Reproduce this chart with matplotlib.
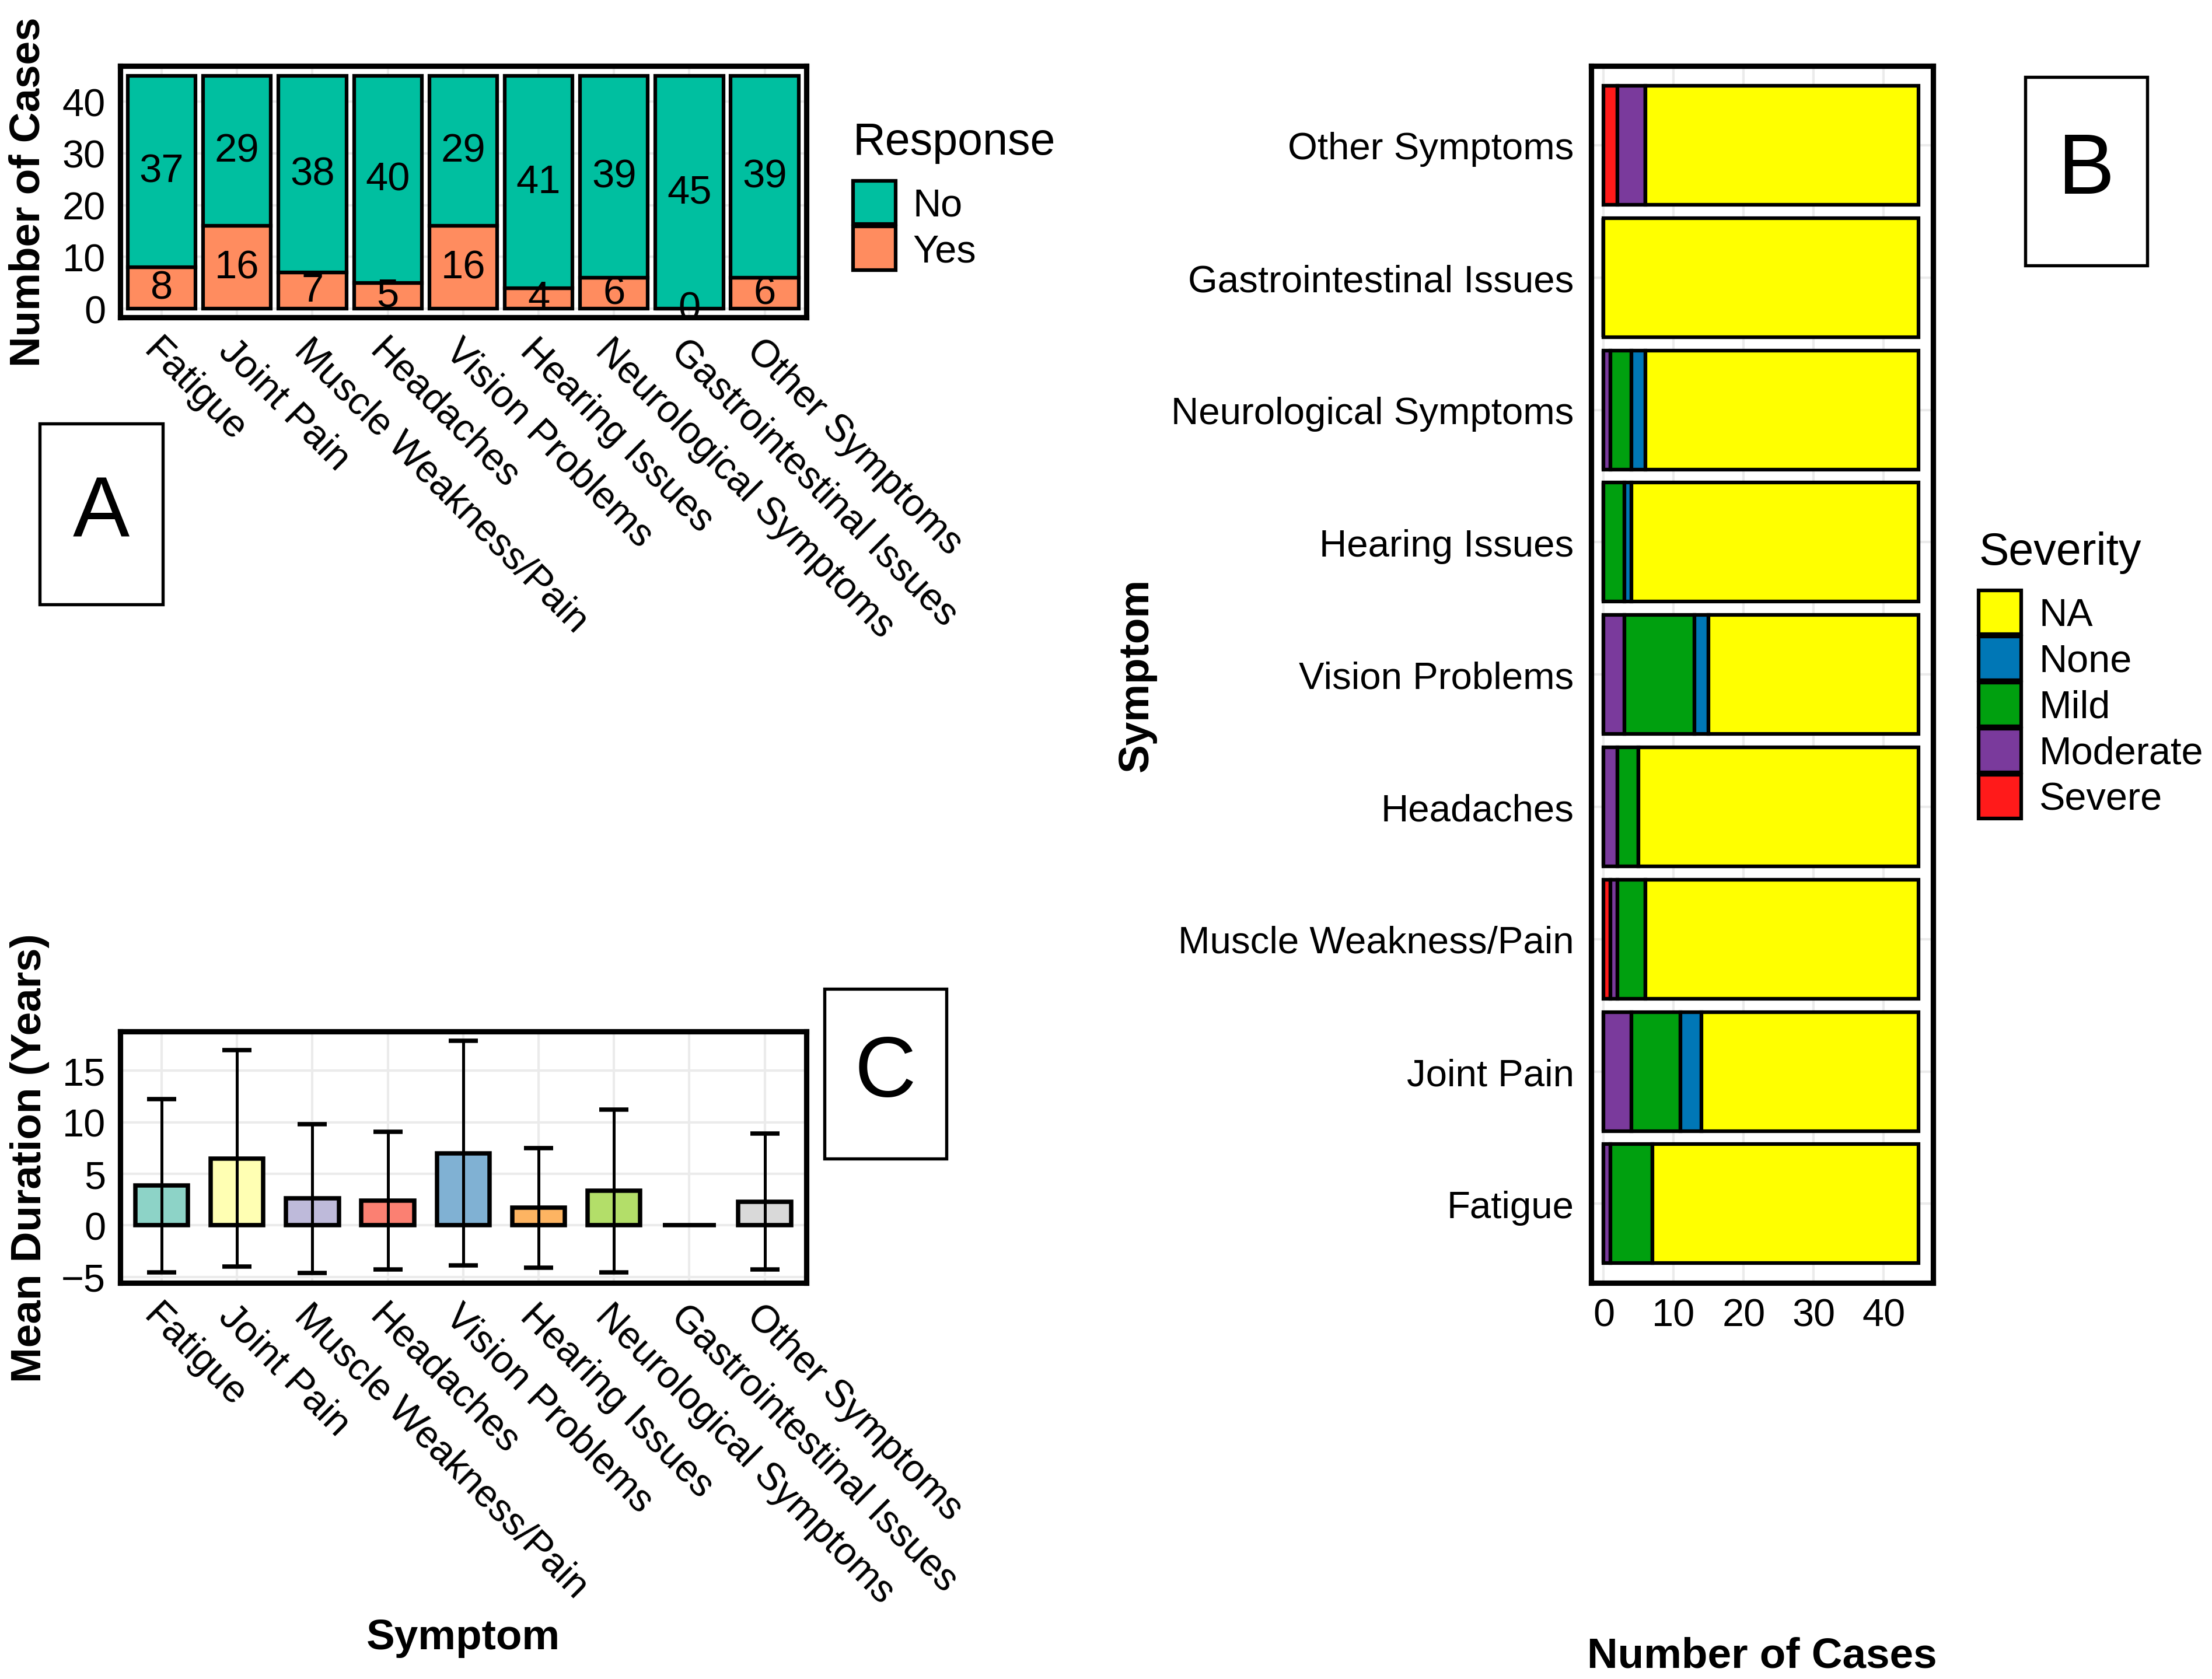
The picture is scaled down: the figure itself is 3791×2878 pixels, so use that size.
import matplotlib
matplotlib.use("Agg")
import matplotlib.pyplot as plt
import matplotlib.patches as mpatches
import numpy as np

plt.rcParams['font.family'] = ['Liberation Sans', 'DejaVu Sans']

# ---- data ----
symptoms = ["Fatigue", "Joint Pain", "Muscle Weakness/Pain", "Headaches",
            "Vision Problems", "Hearing Issues", "Neurological Symptoms",
            "Gastrointestinal Issues", "Other Symptoms"]

# panel A: response counts
yes_counts = [8, 16, 7, 5, 16, 4, 6, 0, 6]
no_counts = [37, 29, 38, 40, 29, 41, 39, 45, 39]

# panel B: severity counts
severe = [0, 0, 1, 0, 0, 0, 0, 0, 2]
moderate = [1, 4, 1, 2, 3, 0, 1, 0, 4]
mild = [6, 7, 4, 3, 10, 3, 3, 0, 0]
none = [0, 3, 0, 0, 2, 1, 2, 0, 0]
na = [38, 31, 39, 40, 30, 41, 39, 45, 39]

# panel C: mean duration (years) and sd
mean_dur = [3.85, 6.5, 2.6, 2.4, 7.0, 1.7, 3.35, 0.0, 2.3]
sd_dur = [8.4, 10.5, 7.2, 6.7, 10.9, 5.8, 7.9, np.nan, 6.6]

teal = '#00BFA0'
orange = '#FF8C5F'
sev_colors = {'NA': '#FFFF00', 'None': '#0077B6', 'Mild': '#00A00F',
              'Moderate': '#7A3A9C', 'Severe': '#FF1A1A'}
set3 = ['#8DD3C7', '#FFFFB3', '#BEBADA', '#FB8072', '#80B1D3',
        '#FDB462', '#B3DE69', '#FCCDE5', '#D9D9D9']

W, H = 1564, 1188  # layout measured on a 1564x1188 view
fig = plt.figure(figsize=(3791 / 300, 2879 / 300), dpi=300)


def rect(x0, y0, x1, y1):
    return [x0 / W, 1 - y1 / H, (x1 - x0) / W, (y1 - y0) / H]


def style_axes(ax):
    for s in ax.spines.values():
        s.set_linewidth(2.2)
        s.set_color('black')
    ax.tick_params(length=0, labelsize=16, pad=6)
    ax.grid(True, color='#EBEBEB', linewidth=1)
    ax.set_axisbelow(True)


def letter_box(x0, y0, x1, y1, letter):
    r = mpatches.Rectangle((x0 / W, 1 - y1 / H), (x1 - x0) / W, (y1 - y0) / H,
                           transform=fig.transFigure, fill=False,
                           edgecolor='black', linewidth=1.3)
    fig.patches.append(r)
    fig.text((x0 + x1) / 2 / W, 1 - (y0 + y1) / 2 / H, letter,
             ha='center', va='center', fontsize=35)


def make_legend(handles, title, x0, y0):
    leg = fig.legend(handles=handles, title=title, loc='upper left',
                     bbox_to_anchor=(x0 / W, 1 - y0 / H), frameon=False,
                     fontsize=16, title_fontsize=18.5, handlelength=1.1,
                     handleheight=1.35, labelspacing=0.06, handletextpad=0.45,
                     borderpad=0, borderaxespad=0, alignment='left')
    leg._legend_box.sep = 7  # gap between title and keys
    return leg


x = np.arange(len(symptoms))

# ---- panel A ----
axA = fig.add_axes(rect(85, 47, 570, 225))
style_axes(axA)
axA.bar(x, yes_counts, width=0.9, color=orange, edgecolor='black', linewidth=1.5)
axA.bar(x, no_counts, width=0.9, bottom=yes_counts, color=teal, edgecolor='black',
        linewidth=1.5)
for i in range(len(symptoms)):
    axA.text(x[i], yes_counts[i] / 2, str(yes_counts[i]), ha='center', va='center', fontsize=16.5)
    axA.text(x[i], yes_counts[i] + no_counts[i] / 2, str(no_counts[i]),
             ha='center', va='center', fontsize=16.5)
axA.set_xlim(-0.55, 8.55)
axA.set_ylim(-1.7, 46.9)
axA.set_yticks([0, 10, 20, 30, 40])
axA.set_xticks(x)
axA.set_xticklabels(symptoms, rotation=-45, ha='left', va='top',
                    rotation_mode='anchor', fontsize=15.8)
axA.set_ylabel('Number of Cases', fontsize=17.5, fontweight='bold')
axA.yaxis.set_label_coords(-0.105, 0.5)
hA = [mpatches.Patch(facecolor=teal, edgecolor='black', linewidth=1.5, label='No'),
      mpatches.Patch(facecolor=orange, edgecolor='black', linewidth=1.5, label='Yes')]
make_legend(hA, 'Response', 603, 86)

# ---- panel C ----
axC = fig.add_axes(rect(85, 730, 570, 908))
style_axes(axC)
axC.bar(x, mean_dur, width=0.7, color=set3, edgecolor='black', linewidth=1.8)
axC.errorbar(x, mean_dur, yerr=sd_dur, fmt='none', ecolor='black',
             elinewidth=1.2, capsize=6, capthick=1.8)
axC.set_xlim(-0.55, 8.55)
axC.set_ylim(-5.6, 18.8)
axC.set_yticks([-5, 0, 5, 10, 15])
axC.set_xticks(x)
axC.set_xticklabels(symptoms, rotation=-45, ha='left', va='top',
                    rotation_mode='anchor', fontsize=15.8)
axC.set_ylabel('Mean Duration (Years)', fontsize=17.5, fontweight='bold')
axC.yaxis.set_label_coords(-0.103, 0.5)
axC.set_xlabel('Symptom', fontsize=17.5, fontweight='bold')
axC.xaxis.set_label_coords(0.5, -1.33)

# ---- panel B ----
axB = fig.add_axes(rect(1125, 47, 1367, 908))
style_axes(axB)
y = np.arange(len(symptoms))
left = np.zeros(len(symptoms))
for name, vals in [('Severe', severe), ('Moderate', moderate), ('Mild', mild),
                   ('None', none), ('NA', na)]:
    axB.barh(y, vals, height=0.9, left=left, color=sev_colors[name],
             edgecolor='black', linewidth=1.5)
    left = left + np.array(vals)
axB.set_ylim(-0.6, 8.6)
axB.set_xlim(-1.8, 47.1)
axB.set_xticks([0, 10, 20, 30, 40])
axB.set_yticks(y)
axB.set_yticklabels(symptoms, fontsize=15.7)
axB.tick_params(axis='y', pad=7)
axB.set_ylabel('Symptom', fontsize=17.5, fontweight='bold')
axB.yaxis.set_label_coords(-1.27, 0.5)
axB.set_xlabel('Number of Cases', fontsize=17.5, fontweight='bold')
axB.xaxis.set_label_coords(0.5, -0.29)
hB = [mpatches.Patch(facecolor=sev_colors[k], edgecolor='black', linewidth=1.5, label=k)
      for k in ['NA', 'None', 'Mild', 'Moderate', 'Severe']]
make_legend(hB, 'Severity', 1399, 376)

# ---- panel letters ----
letter_box(28, 300, 115, 428, 'A')
letter_box(1432, 55, 1518, 188, 'B')
letter_box(583, 700, 669, 820, 'C')

fig.savefig('out.png', dpi=300, facecolor='white')
